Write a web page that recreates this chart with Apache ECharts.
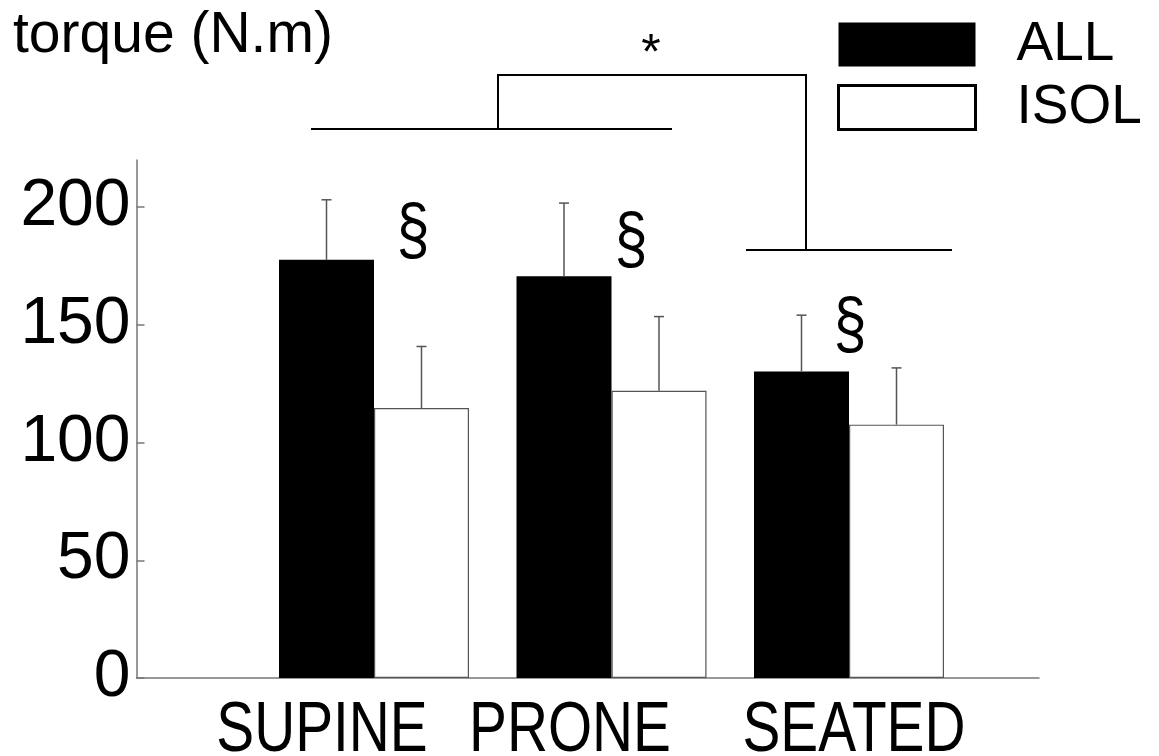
<!DOCTYPE html>
<html>
<head>
<meta charset="utf-8">
<script src="https://cdn.jsdelivr.net/npm/echarts@6/dist/echarts.min.js"></script>
<style>html,body{margin:0;padding:0;background:#fff}#c{width:1159px;height:756px}</style>
</head>
<body>
<div id="c"></div>
<script>
// ---- data ----
const categories = ['SUPINE', 'PRONE', 'SEATED'];
const allValues = [177.6, 170.6, 130.2];
const allErr = [25.5, 31.1, 23.9];
const isolValues = [114.7, 122.0, 107.6];
const isolErr = [26.1, 31.5, 24.1];
const yTicks = [0, 50, 100, 150, 200];
const seriesNames = ['ALL', 'ISOL'];
const yLabel = 'torque (N.m)';

const FONT = '"Liberation Sans", Arial, sans-serif';
const BAR_W = 95;
const chart = echarts.init(document.getElementById('c'), null, {renderer: 'canvas'});

function errRender(offset) {
  return function (params, api) {
    const x = api.value(0), v = api.value(1), e = api.value(2);
    const p0 = api.coord([x, v]);
    const p1 = api.coord([x, v + e]);
    const cx = p0[0] + offset;
    return {
      type: 'group',
      children: [
        {type: 'line', shape: {x1: cx, y1: p0[1], x2: cx, y2: p1[1]}, style: {stroke: '#555', lineWidth: 1.5}},
        {type: 'line', shape: {x1: cx - 5, y1: p1[1], x2: cx + 5, y2: p1[1]}, style: {stroke: '#555', lineWidth: 1.5}}
      ]
    };
  };
}

const option = {
  animation: false,
  backgroundColor: '#fff',
  grid: {left: 136.5, right: 120, top: 160, bottom: 78, containLabel: false},
  xAxis: {
    type: 'value', min: 0, max: 3.8,
    axisLine: {show: true, lineStyle: {color: '#777', width: 1.5}},
    axisTick: {show: false}, axisLabel: {show: false}, splitLine: {show: false}
  },
  yAxis: {
    type: 'value', min: 0, max: 220, interval: 50,
    axisLine: {show: true, lineStyle: {color: '#777', width: 1.5}},
    axisTick: {show: true, inside: true, length: 8, lineStyle: {color: '#777', width: 1.5}, customValues: yTicks},
    axisLabel: {color: '#000', fontSize: 66, fontFamily: FONT, margin: 6, customValues: yTicks},
    splitLine: {show: false}
  },
  legend: {
    orient: 'vertical', left: 837, top: 17, padding: 0,
    itemWidth: 137, itemHeight: 44, itemGap: 8, icon: 'rect',
    textStyle: {fontSize: 55, fontFamily: FONT, color: '#000', lineHeight: 44, padding: [0, 0, 0, 36]},
    data: [
      {name: seriesNames[0], itemStyle: {color: '#000', borderWidth: 0}},
      {name: seriesNames[1], itemStyle: {color: '#fff', borderColor: '#000', borderWidth: 3}}
    ]
  },
  series: [
    {
      name: seriesNames[0], type: 'bar', barWidth: BAR_W, barGap: '0%',
      itemStyle: {color: '#000'},
      data: allValues.map((v, i) => [i + 1, v])
    },
    {
      name: seriesNames[1], type: 'bar', barWidth: BAR_W, barGap: '0%',
      itemStyle: {color: '#fff', borderColor: '#555', borderWidth: 1.2},
      data: isolValues.map((v, i) => [i + 1, v])
    },
    {
      type: 'custom', renderItem: errRender(-BAR_W / 2), z: 5,
      data: allValues.map((v, i) => [i + 1, v, allErr[i]])
    },
    {
      type: 'custom', renderItem: errRender(BAR_W / 2), z: 5,
      data: isolValues.map((v, i) => [i + 1, v, isolErr[i]])
    }
  ]
};
chart.setOption(option);

// ---- annotations ----
const labelCenters = [322, 570, 854];
const sectionMarks = [[413, 234], [631, 243], [850, 328]];
const g = [];
g.push({type: 'text', left: 13, top: 8, style: {text: yLabel, font: '57px ' + FONT, fill: '#000'}});
categories.forEach((c, i) => {
  g.push({type: 'text', x: labelCenters[i], y: 731, scaleX: 0.8,
    style: {text: c, font: '71px ' + FONT, fill: '#000', textAlign: 'center', textVerticalAlign: 'middle'}});
});
sectionMarks.forEach(p => {
  g.push({type: 'text', x: p[0], y: p[1], scaleX: 0.85,
    style: {text: '§', font: '70px ' + FONT, fill: '#000', textAlign: 'center', textVerticalAlign: 'middle'}});
});
g.push({type: 'text', x: 651, y: 55, style: {text: '*', font: '50px ' + FONT, fill: '#000', textAlign: 'center', textVerticalAlign: 'middle'}});
const ln = {stroke: '#000', lineWidth: 2};
g.push({type: 'polyline', shape: {points: [[311, 129], [672, 129]]}, style: ln});
g.push({type: 'polyline', shape: {points: [[498, 129], [498, 75], [806, 75], [806, 250]]}, style: Object.assign({fill: null}, ln)});
g.push({type: 'polyline', shape: {points: [[746, 250], [952, 250]]}, style: ln});
chart.setOption({graphic: g});
</script>
</body>
</html>
